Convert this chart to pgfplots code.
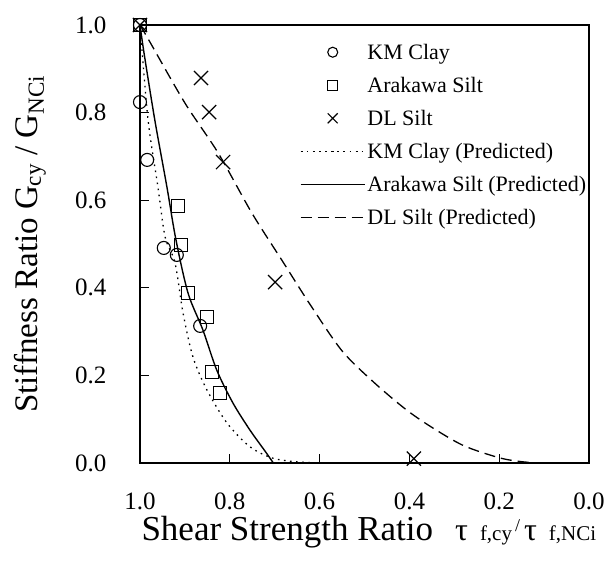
\documentclass[border=0pt]{standalone}
\usepackage{fontspec}
\setmainfont{Liberation Serif}
\usepackage{pgfplots}
\pgfplotsset{compat=1.18}
\begin{document}
\begin{tikzpicture}
\path[use as bounding box] (-140pt,-100pt) rectangle (466pt,463pt);
\begin{axis}[
  scale only axis, width=449pt, height=438pt,
  at={(0pt,0pt)}, anchor=south west,
  x dir=reverse, xmin=0, xmax=1, ymin=0, ymax=1,
  xtick={0,0.2,0.4,0.6,0.8,1.0}, ytick={0,0.2,0.4,0.6,0.8,1.0},
  xtick pos=bottom, ytick pos=left,
  /pgf/number format/fixed, /pgf/number format/fixed zerofill, /pgf/number format/precision=1,
  /pgf/number format/assume math mode=true,
  tick align=inside, major tick length=9pt,
  tick style={line width=1.2pt,black},
  axis line style={line width=1.6pt},
  ticklabel style={font=\fontsize{25}{27}\selectfont},
  xticklabel style={yshift=-26pt},
  yticklabel style={xshift=-30pt},
  xlabel={Shear Strength Ratio\hspace{22pt}{\fontsize{32}{32}\selectfont τ}\hspace{12pt}{\fontsize{21}{21}\selectfont f,cy}\hspace{3pt}\raisebox{9pt}{\fontsize{18}{18}\selectfont /}\hspace{4pt}{\fontsize{32}{32}\selectfont τ}\hspace{12pt}{\fontsize{21}{21}\selectfont f,NCi}},
  xlabel style={font=\fontsize{35}{37}\selectfont, at={(axis description cs:0,-0.178)}, anchor=base west, xshift=-2pt},
  ylabel={Stiffness Ratio G\textsubscript{cy} / G\textsubscript{NCi}},
  ylabel style={font=\fontsize{33}{35}\selectfont, at={(axis description cs:-0.245,0.50)}, anchor=center},
  legend style={draw=none, fill=none, at={(axis description cs:0.356,0.962)}, anchor=north west,
    font=\fontsize{22}{24}\selectfont, row sep=12.3pt, inner sep=0pt},
  legend cell align=left,
  legend image code/.code={\draw[mark repeat=2,mark phase=2] plot coordinates {(0pt,0pt) (32pt,0pt) (64pt,0pt)};},
]
\addplot[only marks, mark=o, mark size=6.5pt, line width=1.1pt, legend image post style={mark size=5pt}] coordinates {
(1.0,1.0) (1.0,0.824) (0.984,0.692) (0.947,0.491) (0.918,0.475) (0.866,0.313)};
\addlegendentry{KM Clay}
\addplot[only marks, mark=square, mark size=6.5pt, line width=1.1pt, legend image post style={mark size=5pt}] coordinates {
(1.0,1.0) (0.915,0.587) (0.909,0.498) (0.893,0.388) (0.851,0.333) (0.840,0.208) (0.822,0.160)};
\addlegendentry{Arakawa Silt}
\addplot[only marks, mark=x, mark size=10pt, line width=1.2pt, legend image post style={mark size=7pt}] coordinates {
(1.0,1.0) (0.864,0.879) (0.846,0.801) (0.815,0.687) (0.699,0.413) (0.39,0.01)};
\addlegendentry{DL Silt}
\addplot[smooth, line width=1.3pt, dash pattern=on 1.6pt off 4.5pt] coordinates {
(1.0,1.0) (0.982,0.783) (0.96,0.63) (0.944,0.516) (0.922,0.457) (0.904,0.342) (0.882,0.242) (0.851,0.167) (0.806,0.091) (0.755,0.037) (0.704,0.011) (0.644,0.002) (0.584,0.0)};
\addlegendentry{KM Clay (Predicted)}
\addplot[smooth, line width=1.4pt] coordinates {
(1.0,1.0) (0.991,0.936) (0.967,0.783) (0.94,0.63) (0.92,0.51) (0.893,0.388) (0.860,0.304) (0.829,0.212) (0.793,0.137) (0.755,0.075) (0.72,0.025) (0.703,0.0)};
\addlegendentry{Arakawa Silt (Predicted)}
\addplot[smooth, line width=1.3pt, dash pattern=on 11pt off 6pt] coordinates {
(1.0,1.0) (0.98,0.965) (0.90,0.822) (0.826,0.708) (0.751,0.571) (0.684,0.463) (0.62,0.36) (0.55,0.256) (0.48,0.185) (0.41,0.124) (0.354,0.084) (0.28,0.04) (0.2,0.012) (0.15,0.003) (0.11,0.0)};
\addlegendentry{DL Silt (Predicted)}
\end{axis}
\end{tikzpicture}
\end{document}
